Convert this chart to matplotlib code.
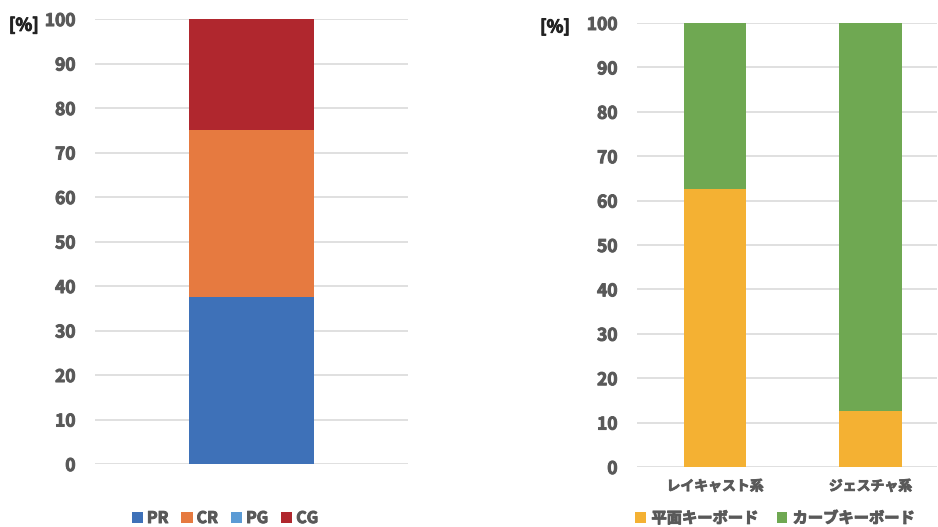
import matplotlib.pyplot as plt
import matplotlib.patheffects as pe
import numpy as np

plt.rcParams['font.family'] = ['Noto Sans CJK JP', 'DejaVu Sans']
plt.rcParams['font.weight'] = 'bold'

# left chart: a single stacked bar
left_series = ['PR', 'CR', 'PG', 'CG']
left_values = [37.5, 37.5, 0.0, 25.0]
left_colors = ['#3e71b8', '#e67a40', '#5b9bd5', '#b0272e']

# right chart: keyboard type per input method
right_categories = ['レイキャスト系', 'ジェスチャ系']
flat_kb = [62.5, 12.5]
curved_kb = [37.5, 87.5]
right_series = ['平面キーボード', 'カーブキーボード']
right_colors = ['#f4b133', '#6fa852']

yticks = np.arange(0, 101, 10)
tick_col = '#595959'


def heavy(col, w=0.7):
    return [pe.withStroke(linewidth=w, foreground=col)]


fig = plt.figure(figsize=(9.38, 5.27), dpi=100)
ax1 = fig.add_axes([95/938, 0.1195, 313/938, 0.8444])
ax2 = fig.add_axes([637/938, 0.1139, 300/938, 0.8425])


def style(ax):
    ax.set_ylim(0, 100)
    ax.set_yticks(yticks)
    ax.grid(axis='y', color='#e0e0e0', linewidth=1.4)
    ax.set_axisbelow(True)
    for s in ax.spines.values():
        s.set_visible(False)
    ax.tick_params(axis='y', length=0, pad=14, labelsize=12.5, labelcolor=tick_col)
    ax.tick_params(axis='x', length=0)
    for t in ax.get_yticklabels():
        t.set_path_effects(heavy(tick_col))


# left
style(ax1)
bottom = 0.0
for name, v, c in zip(left_series, left_values, left_colors):
    ax1.bar(0, v, 0.4, bottom=bottom, color=c, label=name)
    bottom += v
ax1.set_xlim(-0.5, 0.5)
ax1.set_xticks([])
ax1.text(-0.275, 0.985, '[%]', transform=ax1.transAxes, fontsize=12.5,
         ha='left', va='center', color='#222222', path_effects=heavy('#222222'))
h1, l1 = ax1.get_legend_handles_labels()
leg1 = fig.legend(h1, l1, loc='center', bbox_to_anchor=(225/938, 1 - 518/527), ncol=4,
                  frameon=False, handlelength=0.7, handleheight=0.7, handletextpad=0.25,
                  columnspacing=0.8, fontsize=11.5, labelcolor=tick_col)

# right
style(ax2)
x = np.arange(len(right_categories))
ax2.bar(x, flat_kb, 0.4, color=right_colors[0], label=right_series[0])
ax2.bar(x, curved_kb, 0.4, bottom=flat_kb, color=right_colors[1], label=right_series[1])
ax2.set_xlim(-0.502, 1.428)
ax2.set_xticks(x)
ax2.set_xticklabels(right_categories, fontsize=10, color=tick_col)
ax2.tick_params(axis='x', pad=9)
for t in ax2.get_xticklabels():
    t.set_path_effects(heavy(tick_col, 0.6))
ax2.text(-0.323, 0.99, '[%]', transform=ax2.transAxes, fontsize=12.5,
         ha='left', va='center', color='#222222', path_effects=heavy('#222222'))
h2, l2 = ax2.get_legend_handles_labels()
leg2 = fig.legend(h2, l2, loc='center', bbox_to_anchor=(775/938, 1 - 518/527), ncol=2,
                  frameon=False, handlelength=0.7, handleheight=0.7, handletextpad=0.35,
                  columnspacing=1.2, fontsize=11, labelcolor=tick_col)

for leg in (leg1, leg2):
    for t in leg.get_texts():
        t.set_path_effects(heavy(tick_col))

fig.savefig('out.png', dpi=100)
